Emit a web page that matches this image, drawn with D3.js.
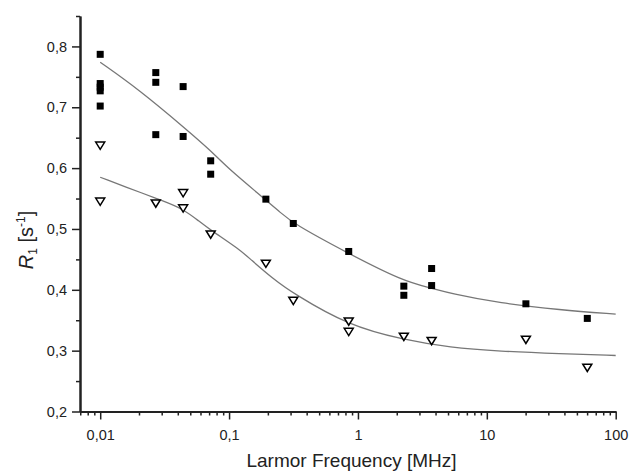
<!DOCTYPE html>
<html>
<head>
<meta charset="utf-8">
<script src="https://cdn.jsdelivr.net/npm/d3@7"></script>
<style>
  body { margin: 0; background: #fff; }
  text { font-family: Arial, "Liberation Sans", sans-serif; fill: #222; }
</style>
</head>
<body>
<div id="chart"></div>
<script>
// measured points, filled squares
var sqFreq = [0.01, 0.01, 0.01, 0.01, 0.01, 0.027, 0.027, 0.027, 0.044, 0.044, 0.072, 0.072, 0.193, 0.315, 0.848, 2.27, 2.27, 3.73, 3.73, 20.1, 60.2]
var sqR1 = [0.787, 0.739, 0.733, 0.727, 0.702, 0.757, 0.741, 0.655, 0.734, 0.652, 0.612, 0.590, 0.549, 0.509, 0.463, 0.406, 0.391, 0.435, 0.407, 0.377, 0.353]

// measured points, open triangles
var triFreq = [0.01, 0.01, 0.027, 0.044, 0.044, 0.072, 0.193, 0.315, 0.848, 0.848, 2.27, 3.73, 20.1, 60.2]
var triR1 = [0.637, 0.545, 0.542, 0.559, 0.534, 0.491, 0.443, 0.382, 0.348, 0.331, 0.323, 0.316, 0.318, 0.272]

// fit curves
var fitUpFreq = [0.01, 0.02, 0.047, 0.071, 0.1, 0.19, 0.25, 0.315, 0.82, 2.25, 3.7, 5.2, 12.6, 37, 100]
var fitUpR1 = [0.774, 0.729, 0.663, 0.630, 0.598, 0.549, 0.527, 0.509, 0.461, 0.414, 0.403, 0.394, 0.378, 0.367, 0.360]
var fitLoFreq = [0.01, 0.023, 0.029, 0.044, 0.059, 0.071, 0.121, 0.145, 0.22, 0.315, 0.848, 2.25, 5.2, 12.6, 37, 100]
var fitLoR1 = [0.585, 0.556, 0.548, 0.533, 0.512, 0.499, 0.466, 0.451, 0.418, 0.394, 0.341, 0.318, 0.305, 0.299, 0.295, 0.292]

// ticks
var xMajor = [0.01, 0.1, 1, 10, 100]
var xMajorLabels = ['0,01', '0,1', '1', '10', '100']
var yMajor = [0.2, 0.3, 0.4, 0.5, 0.6, 0.7, 0.8]
var yMinor = [0.25, 0.35, 0.45, 0.55, 0.65, 0.75, 0.85]

const margin = { top: 16, left: 80, bottom: 60.5, right: 14.3 }
const config = {
    width: 630,
    height: 472
}
const plotW = config.width - margin.left - margin.right
const plotH = config.height - margin.top - margin.bottom

var svg = d3.select('#chart').append('svg')
    .attr('width', config.width)
    .attr('height', config.height)

var xScale = d3.scaleLog().domain([0.00697, 100]).range([0, plotW])
var yScale = d3.scaleLinear().domain([0.2, 0.85]).range([plotH, 0])

var g = svg.append('g').attr('transform', 'translate(' + margin.left + ',' + margin.top + ')')

// minor x ticks: 2..9 of every decade inside the domain
var xMinor = []
xMajor.concat([0.001]).forEach(function (d) {
    for (var k = 2; k <= 9; k++) {
        var v = d * k
        if (v >= 0.00697 && v <= 100) xMinor.push(v)
    }
})

var axisStyle = function (sel) {
    sel.select('.domain').attr('stroke', '#222').attr('stroke-width', 2)
    sel.selectAll('.tick line').attr('stroke', '#222').attr('stroke-width', 1.5)
    sel.selectAll('.tick text').style('font-size', '14.5px').attr('fill', '#222')
}

// x axis
g.append('g').attr('transform', 'translate(0,' + plotH + ')')
    .call(d3.axisBottom(xScale).tickValues(xMinor).tickFormat('').tickSize(4).tickSizeOuter(0))
    .call(axisStyle)
g.append('g').attr('transform', 'translate(0,' + plotH + ')')
    .call(d3.axisBottom(xScale).tickValues(xMajor)
        .tickFormat(function (d, i) { return xMajorLabels[i] })
        .tickSize(8).tickPadding(10).tickSizeOuter(0))
    .call(axisStyle)

// y axis
g.append('g')
    .call(d3.axisLeft(yScale).tickValues(yMinor).tickFormat('').tickSize(4).tickSizeOuter(0))
    .call(axisStyle)
g.append('g')
    .call(d3.axisLeft(yScale).tickValues(yMajor)
        .tickFormat(function (d) { return d.toFixed(1).replace('.', ',') })
        .tickSize(8).tickPadding(5).tickSizeOuter(0))
    .call(axisStyle)

// fit lines
var line = d3.line()
    .x(function (d) { return xScale(d[0]) })
    .y(function (d) { return yScale(d[1]) })
    .curve(d3.curveBasis)

g.append('path')
    .datum(d3.zip(fitUpFreq, fitUpR1))
    .attr('d', line)
    .attr('fill', 'none').attr('stroke', '#777').attr('stroke-width', 1.3)
g.append('path')
    .datum(d3.zip(fitLoFreq, fitLoR1))
    .attr('d', line)
    .attr('fill', 'none').attr('stroke', '#777').attr('stroke-width', 1.3)

// squares
g.selectAll('rect.sq')
    .data(d3.zip(sqFreq, sqR1))
    .enter().append('rect')
    .attr('class', 'sq')
    .attr('x', function (d) { return xScale(d[0]) - 3.5 })
    .attr('y', function (d) { return yScale(d[1]) - 3.5 })
    .attr('width', 7).attr('height', 7)
    .attr('fill', '#000')

// down triangles
g.selectAll('path.tri')
    .data(d3.zip(triFreq, triR1))
    .enter().append('path')
    .attr('class', 'tri')
    .attr('d', 'M-4.5,-3.5L4.5,-3.5L0,3.8Z')
    .attr('transform', function (d) { return 'translate(' + xScale(d[0]) + ',' + yScale(d[1]) + ')' })
    .attr('fill', '#fff').attr('stroke', '#000').attr('stroke-width', 1.5)

// axis titles
svg.append('text')
    .attr('x', 351.5)
    .attr('y', 467)
    .attr('text-anchor', 'middle')
    .style('font-size', '19px')
    .text('Larmor Frequency [MHz]')

var yt = svg.append('text')
    .attr('transform', 'translate(33,240) rotate(-90)')
    .attr('text-anchor', 'middle')
    .style('font-size', '20px')
yt.append('tspan').style('font-style', 'italic').text('R')
yt.append('tspan').attr('dy', 4).style('font-size', '12px').text('1')
yt.append('tspan').attr('dy', -4).text(' [s')
yt.append('tspan').attr('dy', -8).style('font-size', '12px').text('-1')
yt.append('tspan').attr('dy', 8).text(']')
</script>
</body>
</html>
